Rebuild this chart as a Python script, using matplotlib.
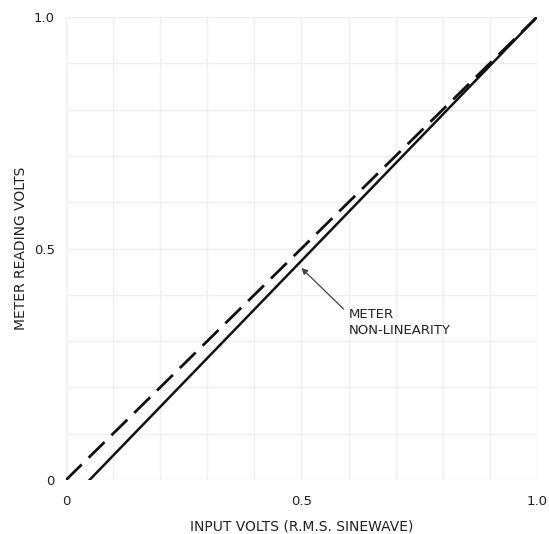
import matplotlib
matplotlib.use('Agg')
import matplotlib.pyplot as plt
import numpy as np

# ideal response (dashed) and meter reading (solid)
ideal_x = [0.0, 1.0]
ideal_y = [0.0, 1.0]
meter_x = [0.05, 1.0]
meter_y = [0.0, 1.0]

ticks = [0, 0.5, 1.0]
tick_labels = ['0', '0.5', '1.0']

plt.rcParams['font.family'] = ['DejaVu Sans']

fig = plt.figure(figsize=(5.49, 5.34), dpi=100)
ax = fig.add_axes([0.12, 0.101, 0.858, 0.867])

ax.plot(ideal_x, ideal_y, color='#111111', lw=2.0, dashes=(8, 3.5))
ax.plot(meter_x, meter_y, color='#111111', lw=1.8)

ax.set_xlim(0, 1)
ax.set_ylim(0, 1)
ax.set_xticks(np.arange(0, 1.01, 0.1), minor=True)
ax.set_yticks(np.arange(0, 1.01, 0.1), minor=True)
ax.set_xticks(ticks)
ax.set_yticks(ticks)
ax.set_xticklabels(tick_labels, fontsize=9.5, color='#222222')
ax.set_yticklabels(tick_labels, fontsize=9.5, color='#222222')
ax.tick_params(axis='x', which='both', length=0, pad=11)
ax.tick_params(axis='y', which='both', length=0, pad=8)
ax.grid(which='both', color='#efefef', lw=1.0)
for s in ax.spines.values():
    s.set_visible(False)

ax.set_xlabel('INPUT VOLTS (R.M.S. SINEWAVE)', fontsize=10, color='#222222', labelpad=8)
ax.set_ylabel('METER READING VOLTS', fontsize=10, color='#222222', labelpad=4)

ax.annotate('METER\nNON-LINEARITY', xy=(0.5, 0.458), xytext=(0.6, 0.34),
            fontsize=9.5, color='#222222', va='center', ha='left', linespacing=1.35,
            arrowprops=dict(arrowstyle='-|>', color='#444444', lw=0.9,
                            shrinkA=2, shrinkB=0, mutation_scale=9,
                            relpos=(0, 0.8)))

fig.savefig('out.png', dpi=100)
